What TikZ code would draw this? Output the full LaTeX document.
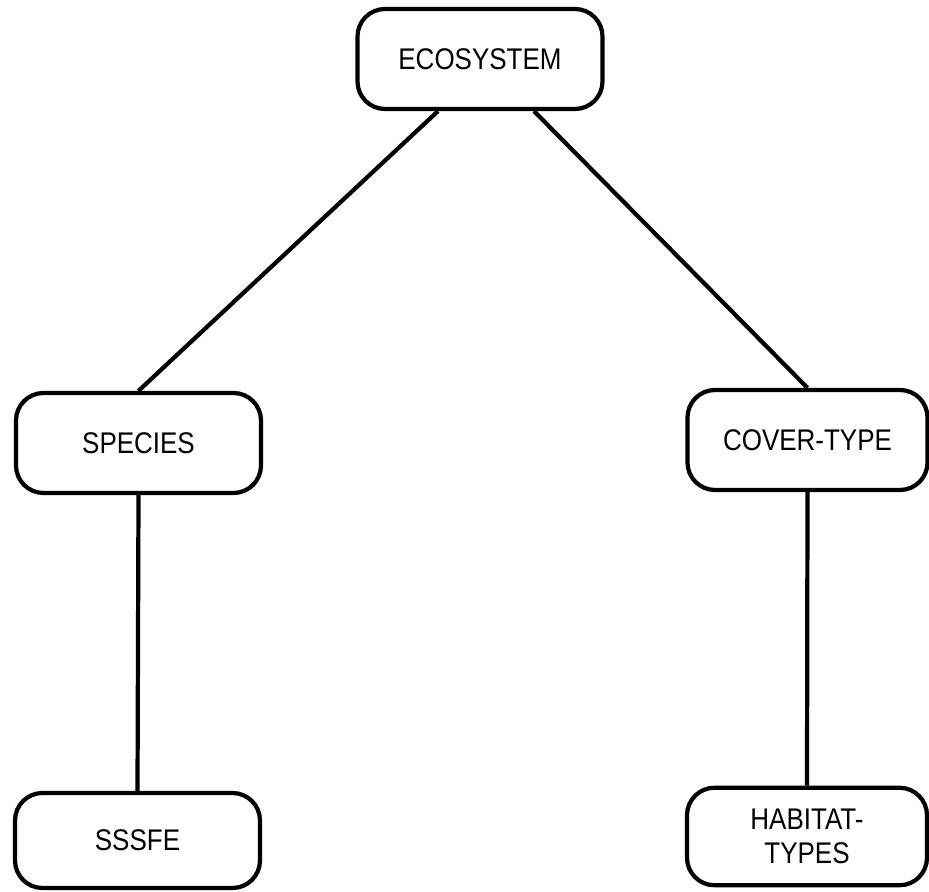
\documentclass[tikz,border=0pt]{standalone}
\usepackage{fontspec}
\setmainfont{Liberation Sans}[FakeStretch=0.87]
\begin{document}
\begin{tikzpicture}[box/.style={draw, line width=2.4pt, rounded corners=0.55cm, minimum width=4.9cm, minimum height=2cm, align=center, font=\fontsize{17}{19}\selectfont}]
        \useasboundingbox (0, 0) rectangle (18.58, 17.84);
        \node[box] (eco)     at ( 9.60, 16.66) {ECOSYSTEM};
        \node[box] (species) at ( 2.77,  8.98) {SPECIES};
        \node[box, minimum width=4.8cm] (cover)   at (16.15,  9.04) {COVER-TYPE};
        \node[box, minimum height=1.9cm] (sssfe)   at ( 2.75,  1.03) {SSSFE};
        \node[box, minimum width=4.8cm, minimum height=1.95cm] (habitat) at (16.14,  1.11) {HABITAT-\\TYPES};
        \draw[line width=2.4pt] ([xshift=-0.84cm]eco.south) -- (species.north);
        \draw[line width=2.4pt] ([xshift= 1.08cm]eco.south) -- (cover.north);
        \draw[line width=2.4pt] (species.south) -- (sssfe.north);
        \draw[line width=2.4pt] (cover.south) -- (habitat.north);
    \end{tikzpicture}
\end{document}
